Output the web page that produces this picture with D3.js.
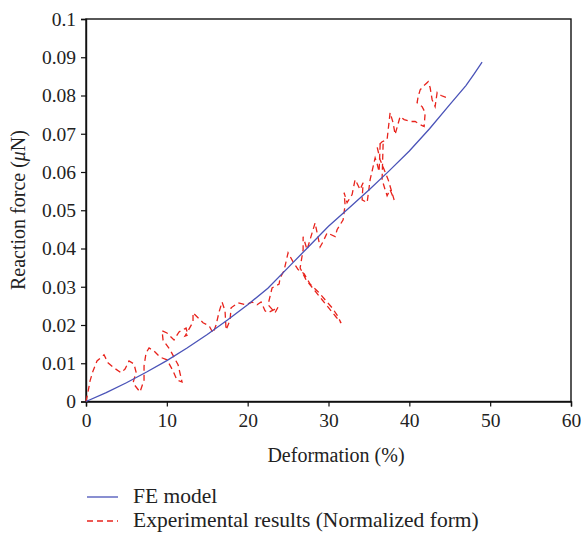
<!DOCTYPE html>
<html lang="en">
<head>
<meta charset="utf-8">
<title>Reaction force vs deformation</title>
<script src="https://cdn.jsdelivr.net/npm/d3@7"></script>
<style>
  body { margin: 0; background: #fff; }
  text { font-family: "Liberation Serif", "DejaVu Serif", serif; fill: #222; }
</style>
</head>
<body>
<div id="chart"></div>
<script>
// FE model curve
const feX = [0, 2.5, 5, 7.5, 10, 12.5, 15, 17.5, 20, 22.5, 25, 27.5, 30, 32.5, 35, 37.5, 40, 42.5, 45, 47, 48, 49];
const feY = [0, 0.0023, 0.0049, 0.0077, 0.0107, 0.014, 0.0175, 0.0213, 0.0253, 0.0296, 0.035, 0.0404, 0.0458, 0.0505, 0.0553, 0.0603, 0.0655, 0.0713, 0.0776, 0.0826, 0.0856, 0.0887];

const expX = [0, 0.25, 0.5, 0.87, 1.36, 2.23, 2.72, 3.47, 4.33, 4.83, 5.32, 5.94, 6.19, 5.82, 6.68, 7.18, 7.18, 7.43, 7.8, 8.42,
  9.16, 10.02, 10.77, 11.26, 11.88, 11.39, 10.4, 9.53, 9.41, 10.02, 10.89, 11.51, 12.38, 12.62, 12.25, 13.24, 13.24, 13.86, 14.48, 15.22,
  15.72, 16.09, 16.46, 16.83, 17.2, 17.33, 17.82, 17.95, 18.81, 19.8, 20.54, 21.16, 21.66, 22.15, 22.52, 23.27, 23.76, 23.39, 22.52, 23.02,
  23.89, 24.01, 24.5, 25.0, 25.62, 26.24, 26.98, 27.72, 28.71, 29.58, 30.45, 31.06, 31.56, 30.94, 30.2, 29.21, 28.22, 27.23, 26.49, 26.86,
  26.86, 27.35, 27.72, 28.34, 28.59, 28.96, 29.33, 29.83, 30.82, 31.06, 31.81, 32.05, 31.93, 32.3, 32.92, 33.29, 33.54, 33.91, 34.28, 34.16,
  34.78, 35.15, 35.77, 36.01, 36.26, 36.39, 36.76, 36.63, 37.0, 37.25, 37.62, 38.12, 37.38, 36.39, 36.01, 36.63, 37.25, 37.62, 37.99, 38.24,
  38.86, 39.36, 40.1, 40.72, 41.34, 41.83, 41.96, 41.58, 40.96, 41.09, 41.34, 41.96, 42.33, 42.57, 42.82, 43.19, 43.44, 43.93, 44.55];
const expY = [0, 0.0025, 0.0054, 0.008, 0.0106, 0.0122, 0.0101, 0.0088, 0.0075, 0.0085, 0.0106, 0.0098, 0.0077, 0.0048, 0.0025, 0.0056, 0.0093, 0.0127, 0.014, 0.0132,
  0.0116, 0.0109, 0.008, 0.0056, 0.0051, 0.0096, 0.0135, 0.0161, 0.0185, 0.0179, 0.0161, 0.0182, 0.0192, 0.0174, 0.0171, 0.0208, 0.0232, 0.0219, 0.0206, 0.0198,
  0.0179, 0.02, 0.0234, 0.026, 0.0237, 0.0187, 0.0213, 0.0245, 0.0258, 0.0253, 0.026, 0.0253, 0.026, 0.0237, 0.0232, 0.024, 0.0247, 0.0232, 0.0253, 0.0297,
  0.0307, 0.0323, 0.0342, 0.0389, 0.0365, 0.0345, 0.0334, 0.0307, 0.0287, 0.0266, 0.0245, 0.0226, 0.0205, 0.0221, 0.024, 0.0266, 0.0292, 0.0318, 0.0349, 0.0397,
  0.0431, 0.0397, 0.0423, 0.0467, 0.0441, 0.0404, 0.0418, 0.0441, 0.0431, 0.0449, 0.0475, 0.0514, 0.0546, 0.052, 0.0541, 0.058, 0.057, 0.0554, 0.0572, 0.0527,
  0.052, 0.058, 0.0637, 0.0622, 0.0601, 0.0672, 0.0677, 0.058, 0.0554, 0.0538, 0.0554, 0.0527, 0.058, 0.0632, 0.0666, 0.0679, 0.0685, 0.0755, 0.0729, 0.0698,
  0.0745, 0.0737, 0.0732, 0.0732, 0.0724, 0.0719, 0.0755, 0.0771, 0.0781, 0.0797, 0.0815, 0.0829, 0.0836, 0.0821, 0.0789, 0.0771, 0.0808, 0.08, 0.0795];

const xTicks = [0, 10, 20, 30, 40, 50, 60];
const yTicks = [0, 0.01, 0.02, 0.03, 0.04, 0.05, 0.06, 0.07, 0.08, 0.09, 0.1];
const legendLabels = ["FE model", "Experimental results (Normalized form)"];

const width = 581, height = 538;
const margin = { left: 86, right: 10, top: 19, bottom: 136.5 };

const svg = d3.select("#chart").append("svg")
  .attr("width", width)
  .attr("height", height);

const x = d3.scaleLinear().domain([0, 60]).range([margin.left, width - margin.right]);
const y = d3.scaleLinear().domain([0, 0.1]).range([height - margin.bottom, margin.top]);

// frame
svg.append("rect")
  .attr("x", x(0)).attr("y", y(0.1))
  .attr("width", x(60) - x(0)).attr("height", y(0) - y(0.1))
  .attr("fill", "none").attr("stroke", "#111").attr("stroke-width", 1.4);

const xAxis = svg.append("g")
  .attr("transform", `translate(0,${y(0)})`)
  .call(d3.axisBottom(x).tickValues(xTicks).tickSize(5).tickPadding(7).tickFormat(d3.format("d")));
const yAxis = svg.append("g")
  .attr("transform", `translate(${x(0)},0)`)
  .call(d3.axisLeft(y).tickValues(yTicks).tickSize(5).tickPadding(5).tickFormat(d => d === 0 ? "0" : String(+d.toFixed(2))));

[xAxis, yAxis].forEach(a => {
  a.select(".domain").attr("stroke", "#111").attr("stroke-width", 1.4);
  a.selectAll(".tick line").attr("stroke", "#111").attr("stroke-width", 1.2);
  a.selectAll(".tick text")
    .style("font-family", '"Liberation Serif", "DejaVu Serif", serif')
    .style("font-size", "19.5px").attr("fill", "#222");
});

const lineFE = d3.line().x(d => x(d[0])).y(d => y(d[1]));
const lineExp = d3.line().x(d => x(d[0])).y(d => y(d[1]));

svg.append("path")
  .datum(expX.map((v, i) => [v, expY[i]]))
  .attr("d", lineExp)
  .attr("fill", "none")
  .attr("stroke", "#e8231c")
  .attr("stroke-width", 1.3)
  .attr("stroke-dasharray", "6,4");

svg.append("path")
  .datum(feX.map((v, i) => [v, feY[i]]))
  .attr("d", lineFE)
  .attr("fill", "none")
  .attr("stroke", "#4a53b8")
  .attr("stroke-width", 1.3);

// axis titles
svg.append("text")
  .attr("x", 336).attr("y", 462)
  .attr("text-anchor", "middle")
  .style("font-size", "20px")
  .text("Deformation (%)");

const yt = svg.append("text")
  .attr("transform", "translate(25,210) rotate(-90)")
  .attr("text-anchor", "middle")
  .style("font-size", "20px");
yt.append("tspan").text("Reaction force (");
yt.append("tspan").style("font-style", "italic").text("μ");
yt.append("tspan").text("N)");

// legend
const legend = svg.append("g");
const legStyles = [
  { stroke: "#4a53b8", dash: null },
  { stroke: "#e8231c", dash: "6,4" }
];
legendLabels.forEach((lab, i) => {
  const ly = 497 + i * 24;
  legend.append("line")
    .attr("x1", 87).attr("x2", 118)
    .attr("y1", ly).attr("y2", ly)
    .attr("stroke", legStyles[i].stroke)
    .attr("stroke-width", 1.3)
    .attr("stroke-dasharray", legStyles[i].dash);
  legend.append("text")
    .attr("x", 133).attr("y", ly + 6)
    .style("font-size", "21.5px")
    .text(lab);
});
</script>
</body>
</html>
